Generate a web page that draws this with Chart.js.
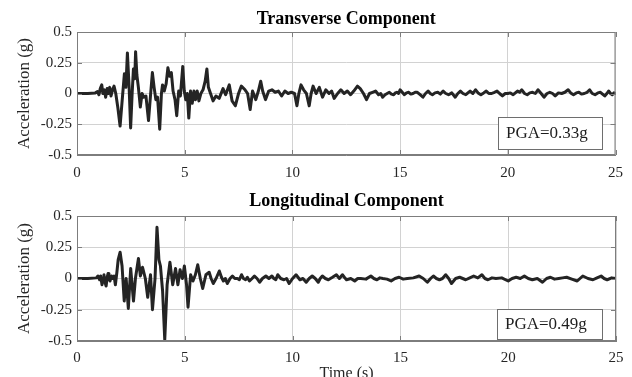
<!DOCTYPE html>
<html><head><meta charset="utf-8">
<script src="https://cdn.jsdelivr.net/npm/chart.js@4.4.1/dist/chart.umd.min.js"></script>
<style>
html,body{margin:0;padding:0;background:#fff;overflow:hidden;width:632px;height:377px}
canvas{position:absolute;left:0}
#c1{top:0}
#c2{top:190px}
</style></head><body>
<canvas id="c1" width="632" height="190"></canvas>
<canvas id="c2" width="632" height="196"></canvas>
<script>
const titles = ['Transverse Component', 'Longitudinal Component'];
const pgaLabels = ['PGA=0.33g', 'PGA=0.49g'];
const yAxisLabel = 'Acceleration (g)';
const xAxisLabel = 'Time (s)';
const xTicks = [0, 5, 10, 15, 20, 25];
const xTickLabels = ['0', '5', '10', '15', '20', '25'];
const yTicks = [-0.5, -0.25, 0, 0.25, 0.5];
const yTickLabels = ['-0.5', '-0.25', '0', '0.25', '0.5'];

const transTime = [
  0,0.5,0.85,0.95,1.02,1.08,1.15,1.2,1.27,1.33,
  1.4,1.46,1.52,1.58,1.65,1.72,1.8,1.9,2.0,2.1,
  2.2,2.27,2.34,2.42,2.49,2.56,2.62,2.68,2.72,2.78,
  2.85,2.94,3.02,3.1,3.2,3.32,3.42,3.5,3.58,3.66,
  3.74,3.84,3.92,3.97,4.05,4.14,4.22,4.3,4.38,4.46,
  4.55,4.63,4.72,4.8,4.91,4.98,5.05,5.12,5.19,5.27,
  5.35,5.43,5.5,5.58,5.66,5.75,5.85,5.95,6.03,6.1,
  6.2,6.32,6.45,6.6,6.78,6.9,7.07,7.2,7.35,7.5,
  7.63,7.8,7.92,8.04,8.15,8.3,8.42,8.53,8.62,8.75,
  8.9,9.05,9.2,9.35,9.5,9.65,9.8,9.95,10.1,10.21,
  10.3,10.4,10.52,10.65,10.78,10.87,10.96,11.1,11.25,11.4,
  11.55,11.7,11.82,11.94,12.1,12.25,12.4,12.55,12.7,12.85,
  13.02,13.15,13.3,13.44,13.58,13.72,13.86,14.0,14.1,14.19,
  14.3,14.4,14.5,14.6,14.7,14.78,14.85,14.93,15.0,15.1,
  15.2,15.3,15.4,15.5,15.6,15.7,15.8,15.93,16.06,16.18,
  16.3,16.4,16.5,16.62,16.75,16.87,17.0,17.12,17.25,17.4,
  17.56,17.68,17.8,17.92,18.05,18.15,18.25,18.38,18.5,18.62,
  18.75,18.88,19.0,19.12,19.25,19.38,19.5,19.62,19.75,19.88,
  20.0,20.12,20.25,20.35,20.45,20.55,20.65,20.78,20.9,21.02,
  21.15,21.28,21.4,21.55,21.68,21.82,21.95,22.08,22.2,22.35,
  22.5,22.65,22.8,22.92,23.05,23.18,23.3,23.42,23.55,23.68,
  23.8,23.92,24.05,24.18,24.3,24.4,24.5,24.6,24.68,24.77,
  24.85,24.93,25.0];
const transAcc = [
  0,0,0.005,0.015,-0.01,0.04,0.07,0,0.03,-0.03,
  0.04,0,0.05,-0.02,0.03,0.06,0,-0.12,-0.265,-0.05,
  0.16,0.05,0.33,0.05,-0.28,0,0.2,0.12,0.34,0.15,
  0.05,-0.11,0,-0.03,-0.02,-0.22,0,0.17,0.05,-0.05,
  -0.03,-0.29,0,0.07,0.02,0.08,0.21,0.14,0.17,0.02,
  -0.05,-0.18,0.02,-0.02,0.22,0.02,-0.05,0,-0.2,0.02,
  -0.08,0.02,-0.05,0.02,-0.06,0,0.03,0.1,0.2,0.05,
  0,-0.06,-0.02,-0.04,0.04,-0.01,0.07,-0.06,-0.1,0,
  0.06,0.03,0,-0.13,0.02,-0.05,0.02,0.1,0.02,-0.05,
  0.02,0.03,0.01,0.02,-0.02,0.02,0,0.01,0,-0.1,
  0,0.07,0.03,0,-0.1,0,0.06,0,0.05,-0.03,
  0.03,0,0.02,-0.04,0,0.03,0,0.02,-0.01,0.02,
  0.06,0.04,0,-0.05,0,0.01,0.02,-0.01,0,-0.03,
  -0.01,0,0.01,-0.005,-0.01,0.005,0.01,0,0.03,0.01,
  -0.01,0.005,0.01,-0.005,0,0.01,0.01,-0.01,-0.03,0,
  0.02,0,-0.01,0.005,0.01,-0.005,0.02,0,-0.01,0.005,
  -0.03,0,0.02,0,-0.01,0.005,0.02,0,0.03,0.005,
  -0.01,0.005,0.02,0,0,0.01,0.02,0,-0.02,0,
  0,0.005,-0.01,0.005,0.02,0.01,0.03,0,-0.01,0.005,
  0.01,0,0.03,0,-0.03,0,0.01,0,-0.02,0.005,
  0,0.01,0.03,0.005,-0.01,0.005,0.01,-0.005,0,0.01,
  0.03,0,-0.01,0.005,0.01,-0.005,-0.02,0,0.02,0,
  -0.01,0.005,0];

const longTime = [
  0,0.5,0.9,0.97,1.05,1.1,1.16,1.21,1.25,1.3,
  1.35,1.4,1.44,1.48,1.53,1.6,1.66,1.72,1.78,1.85,
  1.91,2.0,2.09,2.19,2.28,2.38,2.49,2.62,2.71,2.85,
  2.94,3.04,3.17,3.28,3.41,3.5,3.62,3.71,3.8,3.87,
  3.97,4.07,4.18,4.31,4.44,4.57,4.68,4.78,4.89,4.98,
  5.08,5.15,5.27,5.38,5.49,5.6,5.72,5.83,5.98,6.13,
  6.22,6.32,6.45,6.6,6.7,6.79,6.88,6.97,7.1,7.21,
  7.32,7.44,7.53,7.63,7.72,7.82,7.9,8.0,8.12,8.23,
  8.35,8.47,8.6,8.76,8.9,9.04,9.13,9.22,9.31,9.45,
  9.6,9.72,9.84,10.0,10.16,10.25,10.34,10.48,10.63,10.77,
  10.91,11.05,11.19,11.28,11.38,11.52,11.66,11.85,12.03,12.17,
  12.31,12.4,12.5,12.7,12.88,13.02,13.16,13.4,13.63,13.77,
  13.91,14.05,14.19,14.38,14.57,14.75,14.94,15.13,15.32,15.6,
  15.87,16.06,16.25,16.4,16.53,16.67,16.81,16.95,17.1,17.24,
  17.37,17.56,17.75,17.89,18.03,18.22,18.4,18.59,18.78,18.92,
  19.06,19.25,19.43,19.7,20.0,20.18,20.37,20.56,20.75,20.93,
  21.12,21.35,21.59,21.78,21.96,22.15,22.34,22.52,22.71,22.95,
  23.2,23.33,23.46,23.7,23.93,24.12,24.31,24.45,24.59,24.8,
  25.0];
const longAcc = [
  0,0,0.005,0.02,-0.01,0.02,-0.05,0,0.03,-0.03,
  -0.06,0.01,0.04,0,-0.02,0.02,0,0.02,-0.05,0.05,
  0.15,0.21,0.1,-0.18,0,-0.24,0.08,-0.18,0,0.16,
  0.02,0.09,0,-0.15,0.03,-0.25,0,0.41,0.15,0.1,
  -0.1,-0.49,-0.05,0.13,-0.05,0.08,-0.05,0.07,0,0.1,
  -0.05,-0.23,0.03,-0.02,0.03,0.11,0,-0.08,0.03,0.05,
  0,-0.04,0,0.06,0.01,-0.02,0,-0.04,0,0.02,
  0,0,-0.01,0.03,0,-0.01,0.01,-0.02,0,0.02,
  0,-0.03,0,0.02,0,0.02,0,-0.01,0.03,0,
  -0.01,0,-0.04,0,0.03,0.01,-0.01,0,-0.03,0,
  0.02,0,-0.03,0,0.02,0,-0.01,0.01,0.03,0,
  0.03,0.01,-0.01,0,-0.02,0,0,-0.005,0.02,0,
  -0.01,0.005,0,-0.005,-0.02,0,0.01,-0.005,0,0.005,
  0.02,0,-0.03,0,0.02,0,-0.01,0,0.03,0,
  -0.04,0,0.01,0,-0.01,0.005,0.02,0.005,0.03,0,
  -0.01,0.005,0,0.005,-0.02,0,0.01,0,0.02,0,
  -0.01,0,-0.03,0,0.01,-0.005,0,0.005,0.01,-0.005,
  -0.02,0,0.02,0,-0.01,0.005,0.02,0,-0.01,0.005,
  0];

if (transTime.length !== transAcc.length) throw new Error('trans length mismatch ' + transTime.length + ' ' + transAcc.length);
if (longTime.length !== longAcc.length) throw new Error('long length mismatch ' + longTime.length + ' ' + longAcc.length);

const SERIF = '"Liberation Serif", "Times New Roman", serif';

function decor(idx, cfg) {
  return {
    id: 'decor' + idx,
    afterDatasetsDraw(chart) {
      const {ctx, chartArea: a} = chart;
      const xs = chart.scales.x, ys = chart.scales.y;
      ctx.save();
      ctx.strokeStyle = '#7d7d7d';
      ctx.lineWidth = 1;
      ctx.strokeRect(a.left + 0.5, a.top + 0.5, a.right - a.left - 1, a.bottom - a.top - 1);
      ctx.beginPath();
      xTicks.forEach(v => {
        const px = Math.round(xs.getPixelForValue(v)) + 0.5;
        ctx.moveTo(px, a.top); ctx.lineTo(px, a.top + 5);
        ctx.moveTo(px, a.bottom); ctx.lineTo(px, a.bottom - 5);
      });
      yTicks.forEach(v => {
        const py = Math.round(ys.getPixelForValue(v)) + 0.5;
        ctx.moveTo(a.left, py); ctx.lineTo(a.left + 5, py);
        ctx.moveTo(a.right, py); ctx.lineTo(a.right - 5, py);
      });
      ctx.stroke();
      const b = cfg.box;
      ctx.fillStyle = '#ffffff';
      ctx.fillRect(b[0], b[1], b[2], b[3]);
      ctx.strokeStyle = '#6e6e6e';
      ctx.strokeRect(b[0] + 0.5, b[1] + 0.5, b[2], b[3]);
      ctx.fillStyle = '#1e1e1e';
      ctx.font = '17px ' + SERIF;
      ctx.textBaseline = 'middle';
      ctx.textAlign = 'left';
      ctx.fillText(pgaLabels[idx], b[0] + 8, b[1] + b[3] / 2 + 1);
      ctx.fillStyle = '#000000';
      ctx.font = 'bold 18px ' + SERIF;
      ctx.textAlign = 'center';
      ctx.fillText(titles[idx], (a.left + a.right) / 2, cfg.titleY);
      ctx.restore();
    }
  };
}

function makeChart(id, idx, time, acc, cfg) {
  const pts = time.map((t, i) => ({x: t, y: acc[i]}));
  return new Chart(document.getElementById(id), {
    type: 'line',
    data: {datasets: [{
      data: pts,
      borderColor: '#242424',
      borderWidth: 3,
      pointRadius: 0,
      tension: 0,
      borderJoinStyle: 'round',
      borderCapStyle: 'round',
      fill: false
    }]},
    options: {
      responsive: false,
      animation: false,
      devicePixelRatio: 1,
      layout: {padding: {top: cfg.padTop, right: 16, left: 0, bottom: 0}},
      plugins: {legend: {display: false}, tooltip: {enabled: false}, title: {display: false}},
      scales: {
        x: {
          type: 'linear', min: 0, max: 25,
          afterBuildTicks: s => { s.ticks = xTicks.map(v => ({value: v})); },
          afterFit: s => { s.height = cfg.xHeight; },
          grid: {color: '#d2d2d2', drawTicks: false, lineWidth: 1},
          border: {display: true, color: '#7d7d7d'},
          ticks: {
            padding: cfg.xPad, color: '#262626', maxRotation: 0, autoSkip: false,
            font: {family: SERIF, size: 15},
            callback: (v, i) => xTickLabels[i]
          },
          title: cfg.xTitle ? {
            display: true, text: xAxisLabel, color: '#262626',
            font: {family: SERIF, size: 16}, padding: {top: 0, bottom: 3}
          } : {display: false}
        },
        y: {
          type: 'linear', min: -0.5, max: 0.5,
          afterBuildTicks: s => { s.ticks = yTicks.map(v => ({value: v})); },
          afterFit: s => { s.width = 77; },
          grid: {color: '#d2d2d2', drawTicks: false, lineWidth: 1},
          border: {display: true, color: '#7d7d7d'},
          ticks: {
            padding: 5, color: '#262626',
            font: {family: SERIF, size: 15},
            callback: (v, i) => yTickLabels[i]
          },
          title: {
            display: true, text: yAxisLabel, color: '#262626',
            font: {family: SERIF, size: 17}, padding: {top: 14, bottom: 0}
          }
        }
      }
    },
    plugins: [decor(idx, cfg)]
  });
}

makeChart('c1', 0, transTime, transAcc, {padTop: 32, xHeight: 35, xPad: 9, xTitle: false, box: [498, 117, 104, 32], titleY: 19});
makeChart('c2', 1, longTime, longAcc, {padTop: 26, xHeight: 45, xPad: 8, xTitle: true, box: [497, 119, 105, 30], titleY: 11});
</script>
</body></html>
